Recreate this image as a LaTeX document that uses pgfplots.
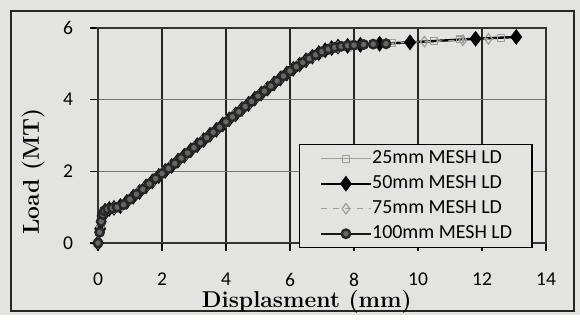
\documentclass[border=0pt]{standalone}
\usepackage{fontspec}
\newfontfamily\calibri{Carlito}
\usepackage{pgfplots}
\pgfplotsset{compat=1.18}
\definecolor{bg}{rgb}{0.89,0.89,0.88}
\definecolor{lite}{rgb}{0.62,0.62,0.62}
\begin{document}
\begin{tikzpicture}
\fill[bg] (-49bp,-36bp) rectangle (241bp,121.5bp);
\draw[black!85,line width=0.7bp] (-43.5bp,-34bp) rectangle (238bp,116bp);
\begin{axis}[
  scale only axis, width=224bp, height=107.5bp,
  xmin=0, xmax=14, ymin=0, ymax=6,
  xtick={0,2,...,14}, ytick={0,2,4,6},
  tick pos=left, tick align=outside, major tick length=4bp,
  tick style={black, line width=0.6bp},
  axis line style={black!80, line width=0.6bp},
  grid=major,
  x grid style={black!85, line width=0.7bp},
  y grid style={black!55, line width=0.5bp},
  /pgf/number format/assume math mode=true,
  ticklabel style={font=\calibri\fontsize{9.8}{11}\selectfont},
  xticklabel style={yshift=-7.5bp},
  yticklabel style={xshift=-5bp},
  xlabel={Displasment (mm)}, ylabel={Load (MT)},
  every axis x label/.style={at={(rel axis cs:0.466,-0.298)}, anchor=base,
    font=\fontsize{11.5}{13}\selectfont\bfseries},
  every axis y label/.style={at={(rel axis cs:-0.145,0.333)}, anchor=center, rotate=90,
    font=\fontsize{11.5}{13}\selectfont\bfseries},
  legend style={at={(rel axis cs:0.449,0.46)}, anchor=north west,
    draw=black, line width=0.6bp, fill=bg,
    font=\calibri\fontsize{10}{11}\selectfont,
    inner xsep=10bp, inner ysep=2.5bp, row sep=3.5bp,
    nodes={inner sep=0pt, text height=7bp, text depth=2bp},
    /tikz/every even column/.append style={column sep=3bp}},
  legend cell align=left,
  legend image code/.code={\draw[#1] (2bp,0bp) -- (27bp,0bp); \draw[#1,solid] plot[only marks] coordinates {(14.5bp,0bp)};},
]
\addplot[lite, line width=0.7bp, mark=square, mark size=1.7bp, mark options={solid, lite, line width=0.6bp}] coordinates {
(0,0) (0.1,0.55) (0.2,0.88) (0.4,0.96) (0.6,1.0) (0.85,1.1) (1.1,1.29) (1.35,1.47) (1.6,1.65) (1.85,1.83)
(2.1,2.01) (2.35,2.19) (2.6,2.37) (2.85,2.55) (3.1,2.73) (3.35,2.91) (3.6,3.09) (3.85,3.27) (4.1,3.45) (4.35,3.63)
(4.6,3.81) (4.85,3.99) (5.1,4.17) (5.35,4.35) (5.6,4.53) (5.85,4.71) (6.1,4.87) (6.35,5.01) (6.6,5.14) (6.85,5.25)
(7.1,5.35) (7.35,5.43) (7.6,5.48) (8.0,5.52) (9.2,5.58) (10.5,5.63) (11.3,5.68) (12.6,5.72)};
\addlegendentry{25mm MESH LD}
\addplot[black, line width=1.2bp, mark=diamond*, mark size=3bp, mark options={solid, black}] coordinates {
(0,0) (0.07,0.4) (0.14,0.75) (0.22,0.9) (0.35,0.95) (0.5,0.98) (0.7,1.03) (0.9,1.15) (1.1,1.29) (1.3,1.43)
(1.5,1.58) (1.7,1.72) (1.9,1.87) (2.1,2.01) (2.3,2.15) (2.5,2.3) (2.7,2.44) (2.9,2.59) (3.1,2.73) (3.3,2.87)
(3.5,3.02) (3.7,3.16) (3.9,3.31) (4.1,3.45) (4.3,3.59) (4.5,3.74) (4.7,3.88) (4.9,4.03) (5.1,4.17) (5.3,4.31)
(5.5,4.45) (5.7,4.59) (5.9,4.73) (6.1,4.86) (6.3,4.98) (6.5,5.1) (6.7,5.2) (6.9,5.3) (7.1,5.38) (7.3,5.44)
(7.5,5.48) (7.8,5.5) (8.2,5.53) (8.8,5.56) (9.75,5.6) (11.8,5.7) (13.07,5.75)};
\addlegendentry{50mm MESH LD}
\addplot[lite, line width=0.7bp, dashed, mark=diamond, mark size=2.6bp, mark options={solid, lite, line width=0.6bp}] coordinates {
(0,0) (0.08,0.45) (0.16,0.8) (0.3,0.93) (0.5,0.97) (0.75,1.04) (1.0,1.22) (1.25,1.4) (1.5,1.58) (1.75,1.76)
(2.0,1.94) (2.25,2.12) (2.5,2.3) (2.75,2.48) (3.0,2.66) (3.25,2.84) (3.5,3.02) (3.75,3.2) (4.0,3.38) (4.25,3.56)
(4.5,3.74) (4.75,3.92) (5.0,4.1) (5.25,4.28) (5.5,4.46) (5.75,4.64) (6.0,4.8) (6.25,4.95) (6.5,5.09) (6.75,5.21)
(7.0,5.32) (7.25,5.41) (7.5,5.47) (7.9,5.51) (9.0,5.57) (10.2,5.62) (11.4,5.66) (12.2,5.7)};
\addlegendentry{75mm MESH LD}
\addplot[black!90, line width=1.2bp, mark=*, mark size=2.1bp, mark options={solid, draw=black!85, fill=black!60}] coordinates {
(0,0) (0.05,0.3) (0.1,0.6) (0.15,0.8) (0.2,0.9) (0.3,0.95) (0.45,0.97) (0.6,1.0) (0.8,1.07) (1.0,1.22)
(1.2,1.36) (1.4,1.5) (1.6,1.65) (1.8,1.8) (2.0,1.94) (2.2,2.08) (2.4,2.22) (2.6,2.37) (2.8,2.51) (3.0,2.66)
(3.2,2.8) (3.4,2.94) (3.6,3.09) (3.8,3.23) (4.0,3.38) (4.2,3.52) (4.4,3.66) (4.6,3.81) (4.8,3.95) (5.0,4.1)
(5.2,4.24) (5.4,4.38) (5.6,4.52) (5.8,4.66) (6.0,4.8) (6.2,4.92) (6.4,5.04) (6.6,5.15) (6.8,5.25) (7.0,5.34)
(7.2,5.41) (7.4,5.46) (7.6,5.49) (7.8,5.51) (8.0,5.52) (8.3,5.54) (8.6,5.55) (9.0,5.56)};
\addlegendentry{100mm MESH LD}
\end{axis}
\end{tikzpicture}
\end{document}
